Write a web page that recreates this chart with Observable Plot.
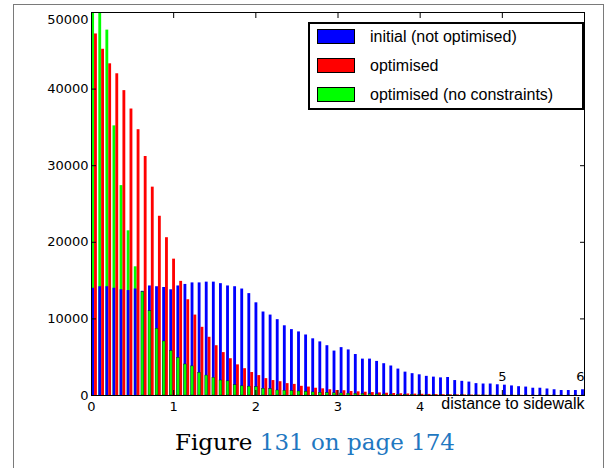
<!DOCTYPE html>
<html><head><meta charset="utf-8">
<script src="https://cdn.jsdelivr.net/npm/d3@7"></script>
<script src="https://cdn.jsdelivr.net/npm/@observablehq/plot@0.6"></script>
<style>
body{margin:0;background:#fff;}
#wrap{position:relative;width:614px;height:468px;overflow:hidden;background:#fff;}
#page{position:absolute;left:13px;top:4px;width:591px;height:490px;border:1.5px solid #7a7a7a;box-sizing:border-box;}
#chart{position:absolute;left:0;top:0;}
#legend{position:absolute;left:308px;top:22px;width:276px;height:88px;border:2px solid #000;box-sizing:border-box;background:#fff;font-family:"Liberation Sans",Arial,sans-serif;font-size:16px;color:#000;}
.row{position:absolute;left:7px;height:15px;display:flex;align-items:center;white-space:nowrap;}
.sw{width:38px;height:15px;border:1px solid #000;box-sizing:border-box;margin-right:15px;flex:none;}
#caption{position:absolute;left:8px;width:614px;top:431px;line-height:23px;text-align:center;font-family:"DejaVu Serif",serif;font-size:23px;color:#000;}
#caption .ref{color:#1f78c1;}
</style>
</head><body>
<div id="wrap">
  <div id="page"></div>
  <div id="chart"></div>
  <div id="legend"></div>
  <div id="caption"><span>Figure</span> <span class="ref">131 on page 174</span></div>
</div>
<script>
const binWidth = 0.0864;
const initial = [
  14000, 14200, 14200, 14000, 13800, 13700, 13900, 13600, 14300, 14200,
  14100, 13800, 14300, 14500, 14700, 14700, 14800, 14800, 14600, 14300,
  14200, 13900, 13300, 12100, 10900, 10500, 9900, 9100, 8600, 8300,
  7900, 7400, 7000, 6500, 5800, 6250, 5950, 5350, 4750, 4750,
  4450, 4150, 3850, 3450, 3050, 2850, 2700, 2500, 2400, 2300,
  2350, 1950, 1850, 1750, 1550, 1500, 1500, 1400, 1350, 1250,
  1150, 1100, 950, 950, 850, 750, 650, 650, 650, 750
];
const optimised = [
  47200, 45200, 43300, 42000, 39800, 37400, 34700, 31200, 27200, 23400,
  20600, 17800, 14900, 12500, 10500, 8900, 7600, 6500, 5600, 4800,
  4000, 3500, 3000, 2600, 2200, 1950, 1800, 1550, 1450, 1200,
  1100, 950, 870, 750, 650, 620, 520, 480, 430, 380,
  340, 300, 260, 230, 200, 180, 160, 140, 120, 100,
  90, 80, 70, 60, 50, 40, 30, 30, 20, 20,
  20, 10, 10, 10, 10, 5, 5, 5, 5, 5
];
const noConstraints = [
  52000, 52000, 47700, 35200, 27400, 21500, 16800, 13500, 11000, 8700,
  7050, 5800, 4900, 4050, 3800, 2950, 2600, 2300, 1950, 1850,
  1350, 1200, 1150, 1100, 870, 830, 650, 610, 570, 520,
  480, 400, 350, 320, 290, 260, 230, 200, 180, 160,
  140, 120, 110, 100, 90, 80, 70, 60, 55, 50,
  45, 40, 35, 30, 30, 25, 25, 20, 20, 15,
  15, 15, 10, 10, 10, 10, 5, 5, 5, 5
];
const xTicks = [0, 1, 2, 3, 4, 5, 6];
const xTickLabels = [0, 1, 2, 3, 4];
const yTicks = [0, 10000, 20000, 30000, 40000, 50000];
const xLabel = "distance to sidewalk";
const seriesNames = ["initial (not optimised)", "optimised", "optimised (no constraints)"];
const seriesColors = ["#0000ff", "#ff0000", "#00ff00"];

const rows = initial.map((v, k) => ({
  s: k * binWidth, initial: v, optimised: optimised[k], free: noConstraints[k]
}));
// in each bin the shorter of the two overlapping bars is drawn in front
const greenBehind = rows.filter(d => d.free > d.initial);
const greenFront = rows.filter(d => d.free <= d.initial);
const fmt = d => String(d);

const slotA = {x1: d => d.s + 0.03 * binWidth, x2: d => d.s + 0.43 * binWidth};
const slotB = {x1: d => d.s + 0.43 * binWidth, x2: d => d.s + 0.83 * binWidth};

const chart = Plot.plot({
  width: 614, height: 420,
  marginLeft: 91, marginRight: 30, marginTop: 12, marginBottom: 25,
  x: {domain: [0, 6]},
  y: {domain: [0, 50000]},
  style: {fontFamily: "DejaVu Sans", fontSize: "13px", color: "#000", background: "transparent", overflow: "visible"},
  marks: [
    Plot.rectY(greenBehind, {...slotA, y: "free", fill: seriesColors[2], clip: true}),
    Plot.rectY(rows, {...slotA, y: "initial", fill: seriesColors[0], clip: true}),
    Plot.rectY(rows, {...slotB, y: "optimised", fill: seriesColors[1], clip: true}),
    Plot.rectY(greenFront, {...slotA, y: "free", fill: seriesColors[2], stroke: "#000", strokeWidth: 0.5, strokeOpacity: 0.7, clip: true}),
    Plot.frame({stroke: "#000"}),
    Plot.axisX({anchor: "bottom", ticks: xTicks, tickSize: -5, tickFormat: () => "", label: null}),
    Plot.axisX({anchor: "top", ticks: xTicks, tickSize: -5, tickFormat: () => "", label: null}),
    Plot.axisY({anchor: "left", ticks: yTicks, tickSize: -5, tickFormat: () => "", label: null}),
    Plot.axisY({anchor: "right", ticks: yTicks, tickSize: -5, tickFormat: () => "", label: null}),
    Plot.axisX({anchor: "bottom", ticks: xTickLabels, tickSize: 0, tickPadding: 6, tickFormat: fmt, label: null}),
    Plot.axisY({anchor: "left", ticks: yTicks.slice(0, 5), tickSize: 0, tickPadding: 3, tickFormat: fmt, label: null}),
    Plot.text([yTicks[5]], {y: d => d, frameAnchor: "left", textAnchor: "end", dx: -3, dy: 7, text: fmt}),
    Plot.text([xTicks[5]], {x: d => d, frameAnchor: "bottom", lineAnchor: "bottom", dy: -15, text: fmt}),
    Plot.text([xTicks[6]], {x: d => d, frameAnchor: "bottom", lineAnchor: "bottom", textAnchor: "end", dy: -15, text: fmt}),
    Plot.text([xLabel], {frameAnchor: "bottom-right", textAnchor: "end", lineAnchor: "top", dy: 2, fontFamily: "Liberation Sans", fontSize: 16})
  ]
});
document.getElementById("chart").append(chart);

const legend = document.getElementById("legend");
seriesNames.forEach((name, i) => {
  const row = document.createElement("div");
  row.className = "row";
  row.style.top = (5 + i * 29) + "px";
  const sw = document.createElement("div");
  sw.className = "sw";
  sw.style.background = seriesColors[i];
  const t = document.createElement("span");
  t.textContent = name;
  row.append(sw, t);
  legend.append(row);
});
</script>
</body></html>
